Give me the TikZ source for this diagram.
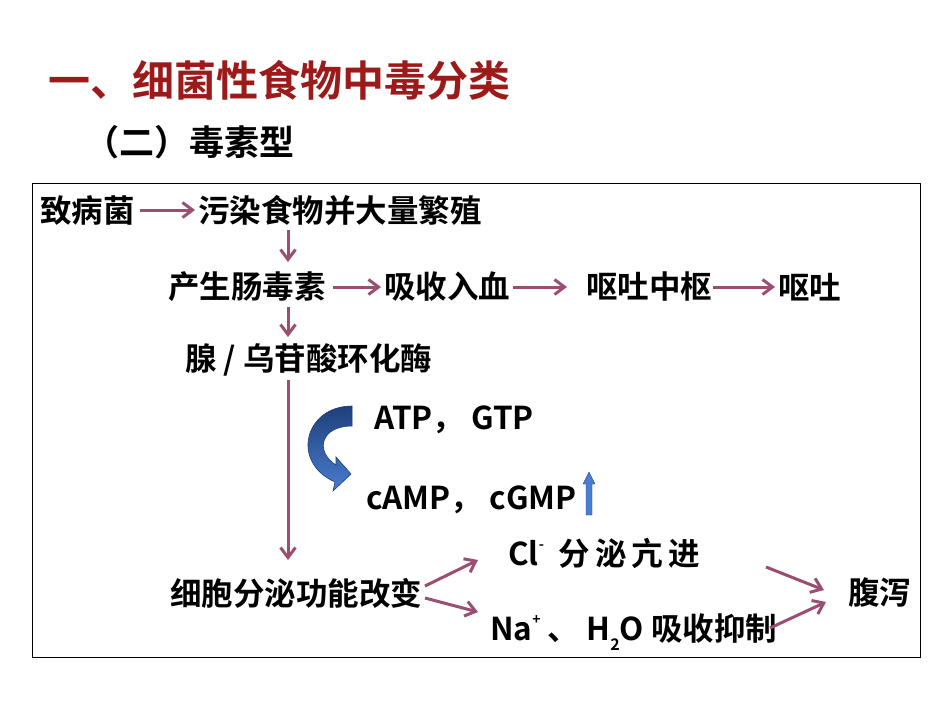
\documentclass[tikz,border=0pt]{standalone}
\usepackage{fontspec}
\setmainfont{Noto Sans CJK SC}[BoldFont={* Bold}]
\usetikzlibrary{arrows.meta}
\definecolor{arr}{HTML}{9A4E72}
\definecolor{ttl}{HTML}{9C1A1A}
\definecolor{bl}{HTML}{4A7CD0}
\definecolor{bld}{HTML}{1F3F7A}
\begin{document}
\begin{tikzpicture}[x=1pt,y=-1pt,
  t/.style={inner sep=0pt,font=\fontsize{31.5}{34}\selectfont\bfseries},
  a/.style={draw=arr,line width=3pt,-{Straight Barb[length=10pt,width=15pt]}}]
\useasboundingbox (0,0) rectangle (950,713);
\fill[white] (0,0) rectangle (950,713);
\node[inner sep=0pt,anchor=west,text=ttl,font=\fontsize{42}{46}\selectfont\bfseries] (title) at (48,80) {一、细菌性食物中毒分类};
\node[inner sep=0pt,anchor=west,font=\fontsize{35}{38}\selectfont\bfseries] (sub) at (84,142) {（二）毒素型};
\draw[line width=0.8pt] (32,183) rectangle (920,657);
\node[t,anchor=west] (n1) at (40,210) {致病菌};
\node[t,anchor=west] (n2) at (198,210) {污染食物并大量繁殖};
\node[t,anchor=west] (n3) at (168,287) {产生肠毒素};
\node[t,anchor=west] (n4) at (384,287) {吸收入血};
\node[t,anchor=west] (n5) at (586,287) {呕吐中枢};
\node[t,anchor=west] (n6) at (778,287) {呕吐};
\node[t,anchor=west] (n7) at (185,360) {腺 / 乌苷酸环化酶};
\node[t,anchor=west] (n8) at (374,420) {ATP， GTP};
\node[t,anchor=west] (n9) at (366,500) {cAMP， cGMP};
\node[t,anchor=west] (n10) at (170,593) {细胞分泌功能改变};
\node[t,anchor=west] (n11) at (508,553) {Cl\raisebox{0.9ex}{\fontsize{14}{16}\selectfont -}\ \ 分\,泌\,亢\,进};
\node[t,anchor=west] (n12) at (490,632) {Na\raisebox{0.9ex}{\fontsize{14}{16}\selectfont +} 、 H\raisebox{-0.6ex}{\fontsize{16}{18}\selectfont 2}O 吸收抑制};
\node[t,anchor=west] (n13) at (848,593) {腹泻};
\coordinate (v1) at (288,230); \coordinate (v2) at (288,262);
\coordinate (v3) at (288,307); \coordinate (v4) at (288,337);
\coordinate (v5) at (288,380); \coordinate (v6) at (288,560);
\coordinate (h1) at (140,210); \coordinate (h2) at (195,210);
\coordinate (h3) at (333,287); \coordinate (h4) at (381,287);
\coordinate (h5) at (513,287); \coordinate (h6) at (567,287);
\coordinate (h7) at (713,287); \coordinate (h8) at (775,287);
\draw[a] (h1) -- (h2);
\draw[a] (v1) -- (v2);
\draw[a] (h3) -- (h4);
\draw[a] (h5) -- (h6);
\draw[a] (h7) -- (h8);
\draw[a] (v3) -- (v4);
\draw[a] (v5) -- (v6);
\coordinate (f0) at (425,586); \coordinate (f1) at (478,560);
\coordinate (f2) at (425,598); \coordinate (f3) at (478,612);
\draw[a] (f0) -- (f1);
\draw[a] (f2) -- (f3);
\coordinate (g0) at (766,567); \coordinate (g1) at (824,590);
\coordinate (g2) at (770,628); \coordinate (g3) at (826,602);
\draw[a] (g0) -- (g1);
\draw[a] (g2) -- (g3);
% curved arrow
\shade[top color=bld,bottom color=bl,draw=bld,line width=0.6pt]
  (352,406) .. controls (305,406) and (290,462) .. (335,482)
  -- (333,491) -- (351,474) -- (336,457) -- (336,465)
  .. controls (315,452) and (320,426) .. (352,426) -- cycle;
% small up arrow
\fill[bl,draw=bld,line width=0.4pt] (586,515) -- (586,484) -- (583,484) -- (589,472) -- (595,484) -- (592,484) -- (592,515) -- cycle;
\end{tikzpicture}
\end{document}
